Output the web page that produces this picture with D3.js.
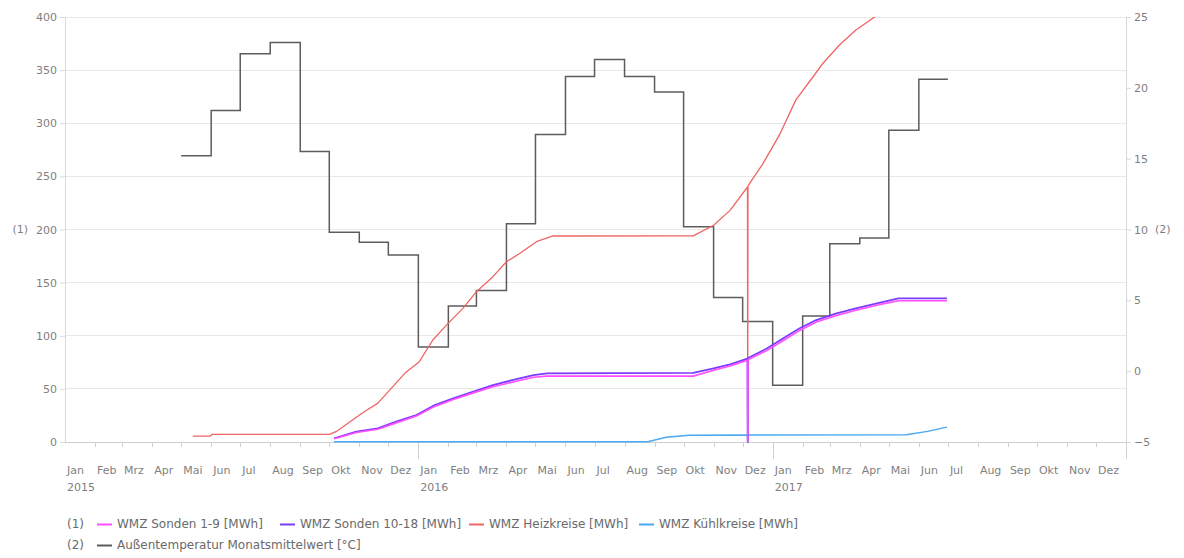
<!DOCTYPE html>
<html>
<head>
<meta charset="utf-8">
<script src="https://cdn.jsdelivr.net/npm/d3@7"></script>
<style>
  html, body { margin: 0; padding: 0; background: #ffffff; }
  svg { display: block; font-family: "DejaVu Sans", Verdana, sans-serif; }
</style>
</head>
<body>
<script>
// ---------- data ----------
const monthLabels = ["Jan","Feb","Mrz","Apr","Mai","Jun","Jul","Aug","Sep","Okt","Nov","Dez"];
const leftTicks = [0, 50, 100, 150, 200, 250, 300, 350, 400];
const rightTicks = [-5, 0, 5, 10, 15, 20, 25];

// monthly mean outside temperature [°C]
const tempMonths = ["2015-05","2015-06","2015-07","2015-08","2015-09","2015-10","2015-11","2015-12",
  "2016-01","2016-02","2016-03","2016-04","2016-05","2016-06","2016-07","2016-08","2016-09","2016-10","2016-11","2016-12",
  "2017-01","2017-02","2017-03","2017-04","2017-05","2017-06"];
const tempValues = [15.2, 18.4, 22.4, 23.2, 15.5, 9.8, 9.1, 8.2,
  1.7, 4.6, 5.7, 10.4, 16.7, 20.8, 22.0, 20.8, 19.7, 10.2, 5.2, 3.5,
  -1.0, 3.9, 9.0, 9.4, 17.0, 20.6];

// WMZ Heizkreise [MWh]
const heizDates = ["2015-05-13","2015-05-31","2015-06-02","2015-10-01","2015-10-08","2015-10-25","2015-11-06","2015-11-20",
  "2015-12-04","2015-12-18","2016-01-02","2016-01-16","2016-01-30","2016-02-16","2016-03-01","2016-03-18","2016-04-01",
  "2016-04-15","2016-05-02","2016-05-19","2016-10-11","2016-11-01","2016-11-18","2016-12-06T00:00","2016-12-06T06:00",
  "2016-12-06T12:00","2016-12-22","2017-01-08","2017-01-25","2017-02-12","2017-02-22","2017-03-11","2017-03-28",
  "2017-04-18","2017-05-10","2017-06-01","2017-06-30"];
const heizValues = [5.6, 5.6, 7.2, 7.2, 9.7, 20.7, 28.5, 36.4,
  50.5, 64.6, 75.6, 96, 110, 125.8, 141.5, 155.6, 169.7,
  177.6, 188.5, 193.9, 194, 204, 218, 240, 0,
  241, 262, 289, 322, 344, 356.5, 373.6, 387.8,
  401, 412, 424, 432];

// WMZ Sonden 10-18 [MWh]
const sondenBDates = ["2015-10-06","2015-10-29","2015-11-20","2015-12-09","2015-12-30","2016-01-18","2016-02-06","2016-02-26",
  "2016-03-18","2016-04-08","2016-04-29","2016-05-13","2016-10-11","2016-11-01","2016-11-18","2016-12-06T00:00",
  "2016-12-06T06:00","2016-12-06T12:00","2016-12-26","2017-01-12","2017-01-29","2017-02-15","2017-03-08","2017-03-28",
  "2017-04-22","2017-05-11","2017-06-30"];
const sondenBValues = [3.5, 9.7, 12.9, 19.1, 25.4, 34.8, 41.1, 47.3,
  53.6, 58.4, 63.0, 64.6, 65.0, 69.3, 73.0, 78.5,
  0, 79.0, 88.0, 97.6, 107.0, 114.8, 121.1, 125.8,
  131.1, 135.2, 135.2];

// WMZ Sonden 1-9 [MWh]
const sondenADates = sondenBDates;
const sondenAValues = [3.0, 9.0, 12.0, 18.0, 24.5, 33.5, 40.0, 46.0,
  52.0, 56.5, 61.0, 62.0, 62.0, 67.5, 71.5, 77.0,
  0, 77.5, 86.0, 95.5, 105.0, 113.0, 119.0, 124.0,
  129.5, 133.0, 133.0];

// WMZ Kühlkreise [MWh]
const kuehlDates = ["2015-10-06","2016-08-25","2016-09-13","2016-10-07","2016-12-06T00:00","2016-12-06T06:00",
  "2016-12-06T12:00","2017-05-19","2017-06-10","2017-06-30"];
const kuehlValues = [0.3, 0.3, 4.4, 6.4, 6.5, 0, 6.5, 6.8, 10.0, 14.0];

const legendRow1 = ["WMZ Sonden 1-9 [MWh]", "WMZ Sonden 10-18 [MWh]", "WMZ Heizkreise [MWh]", "WMZ Kühlkreise [MWh]"];
const legendRow2 = ["Außentemperatur Monatsmittelwert [°C]"];

// ---------- layout ----------
const W = 1184, H = 558;
const L = 65, R = 1126, T = 17, B = 442;
const colors = { sA: "#ff4dff", sB: "#7a3cff", heiz: "#ef6464", kuehl: "#4aa9f0", temp: "#5c5c5c" };

const parse = s => s.length > 10 ? d3.utcParse("%Y-%m-%dT%H:%M")(s) : d3.utcParse("%Y-%m-%d")(s);
const zip = (ds, vs) => ds.map((d, i) => ({ date: parse(d), value: vs[i] }));

const svg = d3.select("body").append("svg").attr("width", W).attr("height", H);

const x = d3.scaleUtc().domain([new Date(Date.UTC(2015,0,1)), new Date(Date.UTC(2018,0,1))]).range([L, R]);
const yL = d3.scaleLinear().domain([0, 400]).range([B, T]);
const yR = d3.scaleLinear().domain([-5, 25]).range([B, T]);

// gridlines
svg.append("g").selectAll("line").data(leftTicks).join("line")
  .attr("x1", L).attr("x2", R).attr("y1", d => yL(d)).attr("y2", d => yL(d))
  .attr("stroke", "#e8e8e8").attr("stroke-width", 1).attr("shape-rendering", "crispEdges");

// left axis
const gL = svg.append("g").attr("transform", `translate(${L},0)`)
  .call(d3.axisLeft(yL).tickValues(leftTicks).tickSize(5).tickSizeOuter(0).tickPadding(3));
gL.select(".domain").attr("stroke", "#d8d8d8");
gL.selectAll(".tick line").attr("stroke", "#d8d8d8");
gL.selectAll(".tick text").attr("fill", "#7f7f7f").style("font-size", "11px").style("font-family", "DejaVu Sans");

// right axis
const gR = svg.append("g").attr("transform", `translate(${R},0)`)
  .call(d3.axisRight(yR).tickValues(rightTicks).tickSize(5).tickSizeOuter(0).tickPadding(3));
gR.select(".domain").attr("stroke", "#d8d8d8");
gR.selectAll(".tick line").attr("stroke", "#d8d8d8");
gR.selectAll(".tick text").attr("fill", "#7f7f7f").style("font-size", "11px").style("font-family", "DejaVu Sans");

svg.append("text").attr("x", 28).attr("y", yL(200)).attr("dy", "0.35em").attr("text-anchor", "end")
  .attr("fill", "#7f7f7f").style("font-size", "11px").text("(1)");
svg.append("text").attr("x", 1155).attr("y", yR(10)).attr("dy", "0.35em")
  .attr("fill", "#7f7f7f").style("font-size", "11px").text("(2)");

// bottom axis
const monthsAll = d3.utcMonth.range(x.domain()[0], d3.utcMonth.offset(x.domain()[1], 1));
const gB = svg.append("g");
gB.append("line").attr("x1", L).attr("x2", R).attr("y1", B).attr("y2", B)
  .attr("stroke", "#d0d0d0").attr("shape-rendering", "crispEdges");
gB.selectAll("line.tk").data(monthsAll.slice(1)).join("line").attr("class", "tk")
  .attr("x1", d => Math.round(x(d)) + 0.5).attr("x2", d => Math.round(x(d)) + 0.5)
  .attr("y1", B).attr("y2", d => d.getUTCMonth() === 0 ? B + 17 : B + 5)
  .attr("stroke", "#d0d0d0");
const monthsLab = d3.utcMonth.range(x.domain()[0], x.domain()[1]);
gB.selectAll("text.m").data(monthsLab).join("text").attr("class", "m")
  .attr("x", d => x(d) + 2).attr("y", 474)
  .attr("fill", "#7f7f7f").style("font-size", "11px")
  .text(d => monthLabels[d.getUTCMonth()]);
gB.selectAll("text.yr").data(monthsLab.filter(d => d.getUTCMonth() === 0)).join("text").attr("class", "yr")
  .attr("x", d => x(d) + 2).attr("y", 491)
  .attr("fill", "#7f7f7f").style("font-size", "11px")
  .text(d => d3.utcFormat("%Y")(d));

// plot lines
svg.append("clipPath").attr("id", "clip").append("rect")
  .attr("x", L).attr("y", T).attr("width", R - L).attr("height", B - T + 4);
const plot = svg.append("g").attr("clip-path", "url(#clip)");

const tempData = [];
tempMonths.forEach((m, i) => {
  const s = d3.utcParse("%Y-%m")(m);
  tempData.push({ date: s, value: tempValues[i] });
  tempData.push({ date: d3.utcMonth.offset(s, 1), value: tempValues[i] });
});
plot.append("path").datum(tempData)
  .attr("fill", "none").attr("stroke", colors.temp).attr("stroke-width", 1.5)
  .attr("d", d3.line().x(d => x(d.date)).y(d => yR(d.value)));

const lineL = d3.line().x(d => x(d.date)).y(d => yL(d.value));
[[zip(heizDates, heizValues), colors.heiz, 1.3],
 [zip(kuehlDates, kuehlValues), colors.kuehl, 1.5],
 [zip(sondenBDates, sondenBValues), colors.sB, 1.8],
 [zip(sondenADates, sondenAValues), colors.sA, 1.6]].forEach(([data, c, w]) => {
  plot.append("path").datum(data).attr("fill", "none").attr("stroke", c)
    .attr("stroke-width", w).attr("stroke-linejoin", "round").attr("d", lineL);
});

// legend
const leg = svg.append("g").style("font-size", "12px");
leg.append("text").attr("x", 67).attr("y", 524).attr("dy", "0.35em").attr("fill", "#6a6a6a").text("(1)");
leg.append("text").attr("x", 67).attr("y", 545).attr("dy", "0.35em").attr("fill", "#6a6a6a").text("(2)");
const row1X = [97, 280, 469, 639];
const row1C = [colors.sA, colors.sB, colors.heiz, colors.kuehl];
legendRow1.forEach((t, i) => {
  leg.append("line").attr("x1", row1X[i]).attr("x2", row1X[i] + 15).attr("y1", 524.5).attr("y2", 524.5)
    .attr("stroke", row1C[i]).attr("stroke-width", 2);
  leg.append("text").attr("x", row1X[i] + 20).attr("y", 524).attr("dy", "0.35em").attr("fill", "#6a6a6a").text(t);
});
legendRow2.forEach((t, i) => {
  leg.append("line").attr("x1", 97).attr("x2", 112).attr("y1", 545.5).attr("y2", 545.5)
    .attr("stroke", colors.temp).attr("stroke-width", 2);
  leg.append("text").attr("x", 117).attr("y", 545).attr("dy", "0.35em").attr("fill", "#6a6a6a").text(t);
});
</script>
</body>
</html>
